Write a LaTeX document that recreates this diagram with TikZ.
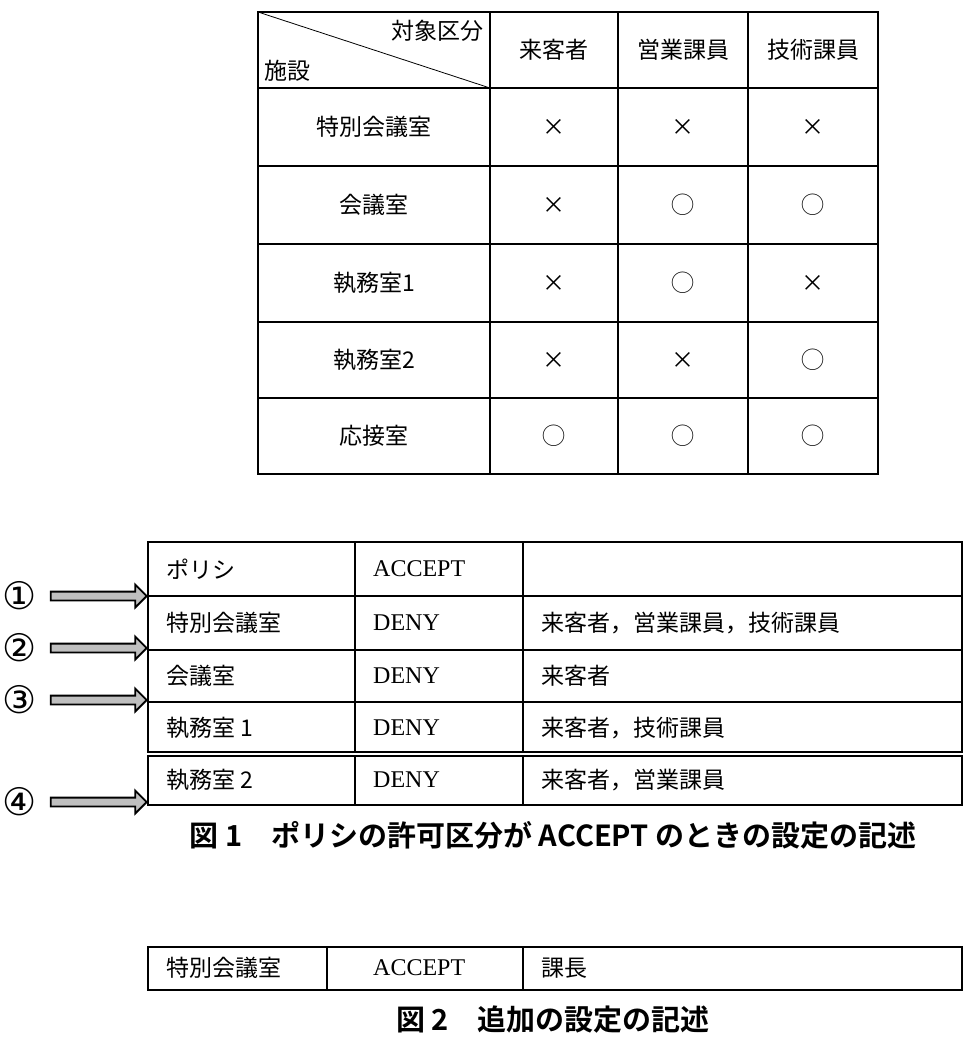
\documentclass[tikz,border=0pt]{standalone}
\usepackage{fontspec}
\setmainfont{Liberation Serif}
\newfontfamily\jp{Noto Sans CJK JP}
\newfontfamily\jpb{Noto Sans CJK JP Bold}
\newfontfamily\dv{DejaVu Sans}
\usetikzlibrary{shapes.arrows}
\begin{document}
\begin{tikzpicture}[x=1pt,y=-1pt,
  txt/.style={font=\fontsize{23}{26}\selectfont\jp, inner sep=0},
  lat/.style={font=\fontsize{24}{26}\selectfont, inner sep=0},
  captxt/.style={font=\fontsize{29}{32}\selectfont\jpb, inner sep=0},
  arr/.style={single arrow, draw=black, line width=1.8pt, fill=gray!50, minimum height=96pt, inner xsep=0pt, inner ysep=3.5pt, single arrow head extend=7pt, single arrow head indent=0pt, anchor=tip},
  grid/.style={line width=1.3pt}]
\useasboundingbox (0,0) rectangle (974,1037);
% table top
\draw[grid] (258,12) rectangle (878,474);
\foreach \y in {88,166,244,322,398} \draw[grid] (258,\y) -- (878,\y);
\foreach \x in {490,618,748} \draw[grid] (\x,12) -- (\x,474);
\draw[line width=0.8pt] (258,12) -- (490,88);
\node[txt,anchor=north east] (h1) at (484,20) {対象区分};
\node[txt,anchor=south west] (h2) at (264,82) {施設};
\node[txt] (c1) at (554,50) {来客者};
\node[txt] (c2) at (683,50) {営業課員};
\node[txt] (c3) at (813,50) {技術課員};
\foreach \n/\y/\a/\b/\c in {特別会議室/127/×/×/×, 会議室/205/×/◯/◯, 執務室1/283/×/◯/×, 執務室2/360/×/×/◯, 応接室/436/◯/◯/◯}{
  \node[txt] at (374,\y) {\n};
  \node[txt] at (554,\y) {\a};
  \node[txt] at (683,\y) {\b};
  \node[txt] at (813,\y) {\c};
}
% figure 1
\draw[grid] (148,542) rectangle (962,752);
\draw[grid] (148,756) rectangle (962,805);
\foreach \y in {596,650,702} \draw[grid] (148,\y) -- (962,\y);
\foreach \x in {355,523} {\draw[grid] (\x,542) -- (\x,752); \draw[grid] (\x,756) -- (\x,805);}
\foreach \y/\a/\b/\c in {569/ポリシ/ACCEPT/, 623/特別会議室/DENY/{来客者，営業課員，技術課員}, 676/会議室/DENY/来客者, 728/執務室 1/DENY/{来客者，技術課員}, 780/執務室 2/DENY/{来客者，営業課員}}{
  \node[txt,anchor=west] at (166,\y) {\a};
  \node[lat,anchor=west] at (373,\y) {\b};
  \node[txt,anchor=west] at (541,\y) {\c};
}
\foreach \i/\y/\s in {1/596/①,2/648/②,3/700/③,4/802/④}{
  \node[font=\fontsize{38}{40}\selectfont\dv,inner sep=0] (n\i) at (20,\y) {\s};
  \coordinate (t\i) at (148,\y);
  \node[arr] (a\i) at (t\i) {};
}
\node[captxt] (cap1) at (553,835) {図 1\quad ポリシの許可区分が ACCEPT のときの設定の記述};
% figure 2
\draw[grid] (148,947) rectangle (962,990);
\foreach \x in {327,523} \draw[grid] (\x,947) -- (\x,990);
\node[txt,anchor=west] at (166,968) {特別会議室};
\node[lat,anchor=west] at (373,968) {ACCEPT};
\node[txt,anchor=west] at (541,968) {課長};
\node[captxt] (cap2) at (553,1020) {図 2\quad 追加の設定の記述};
\end{tikzpicture}
\end{document}
